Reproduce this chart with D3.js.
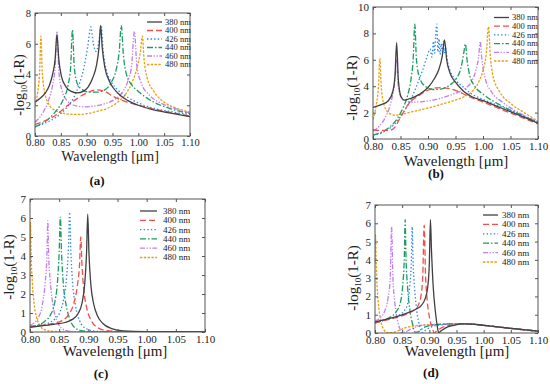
<!DOCTYPE html>
<html>
<head>
<meta charset="utf-8">
<script src="https://cdn.jsdelivr.net/npm/d3@7"></script>
<style>
  body { margin: 0; background: #fff; }
</style>
</head>
<body>
<svg id="svg" width="550" height="384"></svg>
<script>
const seriesNames = ['380 nm', '400 nm', '426 nm', '440 nm', '460 nm', '480 nm'];
const xTicks = [0.80, 0.85, 0.90, 0.95, 1.00, 1.05, 1.10];

// panel (a)
const a380 = [[0.800,2.2],[0.810,2.45],[0.820,2.8],[0.828,3.3],[0.834,4.0],[0.839,5.0],[0.8425,6.6],[0.846,5.0],[0.851,3.9],[0.860,3.2],[0.870,2.9],[0.882,2.8],[0.893,2.9],[0.903,3.2],[0.912,3.8],[0.919,4.6],[0.924,5.8],[0.927,7.2],[0.930,5.8],[0.935,4.5],[0.945,3.5],[0.960,2.8],[0.980,2.3],[1.000,2.0],[1.030,1.7],[1.060,1.5],[1.100,1.25]];
const a400 = [[0.800,0.75],[0.820,1.0],[0.840,1.35],[0.860,1.9],[0.880,2.4],[0.900,2.8],[0.920,3.0],[0.935,2.9],[0.950,2.6],[0.970,2.3],[1.000,2.0],[1.030,1.75],[1.060,1.55],[1.100,1.3]];
const a426 = [[0.800,0.6],[0.820,0.85],[0.840,1.2],[0.860,1.8],[0.875,2.5],[0.886,3.4],[0.895,4.5],[0.902,5.8],[0.908,7.1],[0.913,6.0],[0.918,5.5],[0.923,6.0],[0.928,7.2],[0.932,5.5],[0.938,4.3],[0.948,3.5],[0.960,3.0],[0.980,2.5],[1.000,2.15],[1.030,1.8],[1.060,1.6],[1.100,1.4]];
const a440 = [[0.800,0.6],[0.820,0.95],[0.840,1.6],[0.855,2.4],[0.864,3.3],[0.869,4.5],[0.8725,6.9],[0.876,4.5],[0.882,3.4],[0.892,3.0],[0.905,2.85],[0.920,2.85],[0.935,3.0],[0.948,3.5],[0.957,4.3],[0.963,5.5],[0.967,7.2],[0.971,5.3],[0.977,4.0],[0.988,3.3],[1.000,2.9],[1.030,2.2],[1.060,1.8],[1.100,1.45]];
const a460 = [[0.800,0.9],[0.815,1.5],[0.826,2.3],[0.834,3.3],[0.839,4.5],[0.8425,6.8],[0.846,4.3],[0.852,3.0],[0.862,2.3],[0.875,2.0],[0.895,1.9],[0.915,1.95],[0.935,2.1],[0.955,2.4],[0.970,2.9],[0.980,3.6],[0.987,4.6],[0.9925,6.8],[0.997,4.6],[1.005,3.5],[1.020,2.7],[1.040,2.2],[1.070,1.8],[1.100,1.5]];
const a480 = [[0.800,2.0],[0.805,2.8],[0.809,4.2],[0.8115,6.5],[0.814,4.2],[0.819,2.8],[0.828,2.0],[0.840,1.65],[0.860,1.45],[0.880,1.4],[0.900,1.45],[0.920,1.6],[0.940,1.8],[0.960,2.2],[0.975,2.7],[0.988,3.5],[0.998,4.5],[1.004,5.5],[1.0078,6.5],[1.011,5.0],[1.017,3.8],[1.030,2.9],[1.050,2.2],[1.075,1.8],[1.100,1.55]];

// panel (b)
const b380 = [[0.800,2.4],[0.815,2.6],[0.828,2.9],[0.836,3.6],[0.840,4.8],[0.843,7.3],[0.846,4.5],[0.851,3.2],[0.857,2.95],[0.870,3.1],[0.885,3.4],[0.900,3.9],[0.912,4.6],[0.920,5.3],[0.926,6.3],[0.930,7.5],[0.934,6.0],[0.940,5.0],[0.950,4.3],[0.965,3.6],[0.980,3.2],[1.000,2.9],[1.030,2.4],[1.060,1.9],[1.100,1.2]];
const b400 = [[0.800,0.7],[0.815,0.65],[0.830,0.65],[0.840,0.9],[0.848,1.5],[0.855,2.0],[0.862,2.5],[0.870,2.9],[0.880,3.2],[0.895,3.6],[0.910,3.85],[0.925,3.9],[0.940,3.8],[0.955,3.6],[0.970,3.3],[1.000,2.8],[1.030,2.3],[1.060,1.8],[1.100,1.15]];
const b426 = [[0.800,0.3],[0.815,0.45],[0.830,0.8],[0.845,1.4],[0.858,2.2],[0.870,3.1],[0.880,4.1],[0.890,5.2],[0.898,6.2],[0.904,6.8],[0.907,6.2],[0.910,7.4],[0.912,6.5],[0.914,7.8],[0.916,8.7],[0.918,6.6],[0.920,7.6],[0.922,6.4],[0.924,7.2],[0.926,6.6],[0.928,7.4],[0.930,6.5],[0.932,6.9],[0.935,6.0],[0.940,5.2],[0.950,4.5],[0.965,3.9],[0.980,3.4],[1.000,3.0],[1.030,2.5],[1.060,2.0],[1.100,1.25]];
const b440 = [[0.800,0.3],[0.815,0.5],[0.830,0.9],[0.845,1.6],[0.855,2.4],[0.863,3.3],[0.869,4.5],[0.873,6.0],[0.876,8.7],[0.879,6.0],[0.885,4.6],[0.895,4.0],[0.910,3.75],[0.925,3.8],[0.940,4.1],[0.952,4.6],[0.960,5.4],[0.965,6.5],[0.968,7.2],[0.971,6.0],[0.976,4.8],[0.985,4.0],[1.000,3.4],[1.030,2.6],[1.060,2.0],[1.100,1.25]];
const b460 = [[0.800,0.6],[0.812,1.0],[0.822,1.6],[0.830,2.4],[0.836,3.4],[0.840,4.5],[0.843,6.0],[0.846,4.0],[0.852,3.1],[0.860,2.85],[0.875,2.8],[0.895,2.85],[0.915,3.0],[0.935,3.25],[0.955,3.55],[0.970,3.9],[0.980,4.4],[0.987,5.2],[0.992,6.2],[0.995,7.4],[0.998,6.0],[1.004,4.6],[1.015,3.6],[1.035,2.8],[1.065,2.0],[1.100,1.3]];
const b480 = [[0.800,1.5],[0.806,2.6],[0.810,4.0],[0.8125,6.1],[0.815,4.0],[0.820,2.6],[0.828,2.0],[0.840,1.8],[0.855,1.9],[0.870,2.05],[0.890,2.25],[0.910,2.45],[0.930,2.7],[0.950,2.95],[0.965,3.2],[0.980,3.6],[0.992,4.3],[1.000,5.2],[1.006,6.5],[1.010,8.5],[1.013,6.5],[1.018,4.8],[1.030,3.6],[1.050,2.7],[1.075,2.0],[1.100,1.35]];

// panel (c)
const c380 = [[0.800,0.25],[0.820,0.32],[0.840,0.4],[0.860,0.5],[0.872,0.65],[0.882,0.95],[0.889,1.5],[0.894,2.6],[0.897,4.2],[0.899,6.2],[0.901,4.2],[0.904,2.6],[0.909,1.5],[0.915,0.9],[0.925,0.45],[0.940,0.18],[0.960,0.06],[1.000,0.02],[1.100,0.01]];
const c400 = [[0.800,0.28],[0.820,0.35],[0.840,0.45],[0.855,0.6],[0.866,0.9],[0.875,1.5],[0.881,2.4],[0.885,3.6],[0.887,5.0],[0.889,3.6],[0.892,2.3],[0.897,1.3],[0.905,0.6],[0.915,0.25],[0.930,0.08],[0.960,0.02],[1.100,0.01]];
const c426 = [[0.800,0.3],[0.815,0.35],[0.830,0.45],[0.843,0.7],[0.852,1.1],[0.858,1.8],[0.863,3.0],[0.866,4.5],[0.868,6.3],[0.870,4.3],[0.873,2.6],[0.878,1.4],[0.885,0.6],[0.895,0.2],[0.910,0.05],[0.950,0.01],[1.100,0.01]];
const c440 = [[0.800,0.3],[0.812,0.35],[0.825,0.55],[0.835,0.9],[0.842,1.5],[0.847,2.6],[0.850,4.2],[0.852,6.05],[0.854,4.2],[0.857,2.6],[0.862,1.4],[0.868,0.7],[0.876,0.25],[0.890,0.06],[0.920,0.01],[1.100,0.01]];
const c460 = [[0.800,0.35],[0.808,0.5],[0.815,0.8],[0.821,1.4],[0.826,2.6],[0.829,4.0],[0.8305,5.85],[0.832,4.0],[0.835,2.6],[0.840,1.3],[0.846,0.6],[0.854,0.2],[0.865,0.05],[0.890,0.01],[1.100,0.01]];
const c480 = [[0.800,3.0],[0.8008,5.8],[0.802,4.0],[0.804,2.6],[0.807,1.5],[0.811,0.8],[0.817,0.35],[0.825,0.12],[0.840,0.03],[0.870,0.01],[1.100,0.01]];

// panel (d)
const d380 = [[0.800,0.6],[0.820,0.75],[0.840,0.9],[0.860,1.1],[0.875,1.3],[0.885,1.5],[0.892,1.85],[0.897,2.5],[0.900,3.8],[0.902,6.2],[0.904,4.5],[0.907,2.6],[0.911,1.2],[0.915,0.3],[0.917,0.02],[0.922,0.12],[0.930,0.28],[0.945,0.42],[0.960,0.5],[0.980,0.48],[1.000,0.42],[1.030,0.32],[1.060,0.22],[1.100,0.1]];
const d400 = [[0.800,0.55],[0.820,0.7],[0.840,0.85],[0.860,1.05],[0.872,1.25],[0.880,1.55],[0.885,2.1],[0.888,3.2],[0.8905,5.9],[0.893,3.2],[0.896,1.8],[0.900,0.9],[0.905,0.3],[0.909,0.02],[0.915,0.15],[0.925,0.32],[0.945,0.45],[0.960,0.5],[0.980,0.48],[1.000,0.42],[1.030,0.32],[1.060,0.22],[1.100,0.1]];
const d426 = [[0.800,0.55],[0.820,0.72],[0.840,0.92],[0.852,1.15],[0.860,1.6],[0.864,2.6],[0.867,4.0],[0.8685,5.8],[0.870,4.0],[0.873,2.4],[0.877,1.2],[0.882,0.4],[0.887,0.02],[0.893,0.15],[0.905,0.35],[0.925,0.45],[0.960,0.5],[0.980,0.48],[1.000,0.42],[1.030,0.32],[1.060,0.22],[1.100,0.1]];
const d440 = [[0.800,0.55],[0.815,0.7],[0.830,0.9],[0.840,1.2],[0.847,1.7],[0.851,2.6],[0.854,4.2],[0.8555,6.2],[0.857,4.2],[0.860,2.5],[0.864,1.3],[0.869,0.5],[0.874,0.05],[0.880,0.08],[0.890,0.3],[0.910,0.45],[0.940,0.5],[0.960,0.5],[0.980,0.48],[1.000,0.42],[1.030,0.32],[1.060,0.22],[1.100,0.1]];
const d460 = [[0.800,0.65],[0.810,0.85],[0.818,1.2],[0.824,1.9],[0.828,3.0],[0.8305,5.8],[0.833,3.0],[0.836,1.8],[0.840,0.9],[0.845,0.3],[0.849,0.02],[0.856,0.05],[0.865,0.2],[0.880,0.38],[0.900,0.45],[0.930,0.48],[0.960,0.5],[0.980,0.48],[1.000,0.42],[1.030,0.32],[1.060,0.22],[1.100,0.1]];
const d480 = [[0.800,3.8],[0.8008,5.4],[0.802,4.0],[0.804,2.5],[0.807,1.4],[0.811,0.6],[0.816,0.2],[0.822,0.02],[0.832,0.02],[0.842,0.12],[0.855,0.28],[0.870,0.38],[0.890,0.44],[0.920,0.47],[0.960,0.5],[0.980,0.48],[1.000,0.42],[1.030,0.32],[1.060,0.22],[1.100,0.1]];

const colors = ['#404040', '#f0504a', '#2a86e8', '#1a9c62', '#c27ef0', '#e8a010'];
const dashes = [null, '6,3', '1.4,2.2', '6,2,1.5,2', '5,1.6,1.3,1.6,1.3,1.6', '2.4,1.4'];
const serif = 'Liberation Serif';

const panels = [
  { id: 'a', series: [a380, a400, a426, a440, a460, a480], yMax: 8, yStep: 2,
    box: { l: 35, r: 190, t: 13, b: 136 }, fs: 10.5, tfs: 14,
    xTitle: [110, 161], yTitle: [24, 85], cap: [97, 185],
    leg: { x1: 147, x2: 162, tx: 165, y0: 22, dy: 8.5, fs: 8.5 } },
  { id: 'b', series: [b380, b400, b426, b440, b460, b480], yMax: 10, yStep: 2,
    box: { l: 373, r: 538, t: 7, b: 139 }, fs: 11, tfs: 15,
    xTitle: [456, 166], yTitle: [357, 88], cap: [436, 178],
    leg: { x1: 494, x2: 509, tx: 512, y0: 17.5, dy: 8.7, fs: 8.5 } },
  { id: 'c', series: [c380, c400, c426, c440, c460, c480], yMax: 7, yStep: 1,
    box: { l: 30, r: 205, t: 199, b: 332 }, fs: 11, tfs: 15,
    xTitle: [115, 356], yTitle: [14, 267], cap: [101, 378],
    leg: { x1: 140, x2: 157, tx: 163, y0: 211, dy: 9.3, fs: 9 } },
  { id: 'd', series: [d380, d400, d426, d440, d460, d480], yMax: 7, yStep: 1,
    box: { l: 375, r: 538, t: 205, b: 333 }, fs: 11, tfs: 15,
    xTitle: [457, 356], yTitle: [358, 278], cap: [431, 377],
    leg: { x1: 483, x2: 498, tx: 502, y0: 215, dy: 9.4, fs: 9 } }
];

const svg = d3.select('#svg');

const drawPanel = function(p) {
  const { l, r, t, b } = p.box;
  const x = d3.scaleLinear().domain([0.8, 1.1]).range([l, r]);
  const y = d3.scaleLinear().domain([0, p.yMax]).range([b, t]);
  const yTicks = d3.range(0, p.yMax + 0.001, p.yStep);
  const g = svg.append('g').classed('panel-' + p.id, true).attr('font-family', serif);

  g.append('clipPath').attr('id', 'clip-' + p.id)
    .append('rect').attr('x', l).attr('y', t).attr('width', r - l).attr('height', b - t);

  // curves
  const line = d3.line()
    .x(d => x(d[0]))
    .y(d => y(d[1]))
    .curve(d3.curveMonotoneX);
  const curves = g.append('g').attr('clip-path', 'url(#clip-' + p.id + ')');
  // reverse order so 380 nm ends up on top
  p.series.map((s, i) => ({ s, i })).reverse().forEach(({ s, i }) => {
    curves.append('path')
      .datum(s)
      .attr('d', line)
      .attr('fill', 'none')
      .attr('stroke', colors[i])
      .attr('stroke-width', 1.3)
      .attr('stroke-dasharray', dashes[i]);
  });

  // axes, ticks pointing inward
  const axStyle = sel => {
    sel.attr('font-family', serif).attr('font-size', p.fs);
    sel.select('.domain').remove();
    sel.selectAll('.tick line').attr('stroke', '#555');
    sel.selectAll('text').attr('fill', '#222');
  };
  g.append('g').attr('transform', 'translate(0,' + b + ')')
    .call(d3.axisBottom(x).tickValues(xTicks).tickFormat(d3.format('.2f')).tickSizeInner(-3).tickSizeOuter(0).tickPadding(3))
    .call(axStyle);
  g.append('g').attr('transform', 'translate(0,' + t + ')')
    .call(d3.axisTop(x).tickValues(xTicks).tickFormat('').tickSizeInner(-3).tickSizeOuter(0))
    .call(axStyle);
  g.append('g').attr('transform', 'translate(' + l + ',0)')
    .call(d3.axisLeft(y).tickValues(yTicks).tickFormat(d3.format('d')).tickSizeInner(-3).tickSizeOuter(0).tickPadding(4))
    .call(axStyle);
  g.append('g').attr('transform', 'translate(' + r + ',0)')
    .call(d3.axisRight(y).tickValues(yTicks).tickFormat('').tickSizeInner(-3).tickSizeOuter(0))
    .call(axStyle);

  g.append('rect')
    .attr('x', l).attr('y', t).attr('width', r - l).attr('height', b - t)
    .attr('fill', 'none').attr('stroke', '#555').attr('stroke-width', 1);

  // titles
  g.append('text')
    .attr('x', p.xTitle[0]).attr('y', p.xTitle[1])
    .attr('text-anchor', 'middle').attr('font-size', p.tfs).attr('fill', '#222')
    .text('Wavelength [μm]');

  const yt = g.append('text')
    .attr('transform', 'translate(' + p.yTitle[0] + ',' + p.yTitle[1] + ') rotate(-90)')
    .attr('text-anchor', 'middle').attr('font-size', p.tfs).attr('fill', '#222');
  yt.append('tspan').text('-log');
  yt.append('tspan').attr('dy', 3).attr('font-size', p.tfs * 0.6).text('10');
  yt.append('tspan').attr('dy', -3).text('(1-R)');

  g.append('text')
    .attr('x', p.cap[0]).attr('y', p.cap[1])
    .attr('text-anchor', 'middle').attr('font-size', 13).attr('font-weight', 'bold').attr('fill', '#111')
    .text('(' + p.id + ')');

  // legend
  const lg = g.append('g');
  seriesNames.forEach((name, i) => {
    const yy = p.leg.y0 + i * p.leg.dy;
    lg.append('line')
      .attr('x1', p.leg.x1).attr('x2', p.leg.x2).attr('y1', yy).attr('y2', yy)
      .attr('stroke', colors[i]).attr('stroke-width', 1.3)
      .attr('stroke-dasharray', dashes[i]);
    lg.append('text')
      .attr('x', p.leg.tx).attr('y', yy).attr('dy', '0.33em')
      .attr('font-size', p.leg.fs).attr('fill', '#222')
      .text(name);
  });
};

panels.forEach(drawPanel);
</script>
</body>
</html>
